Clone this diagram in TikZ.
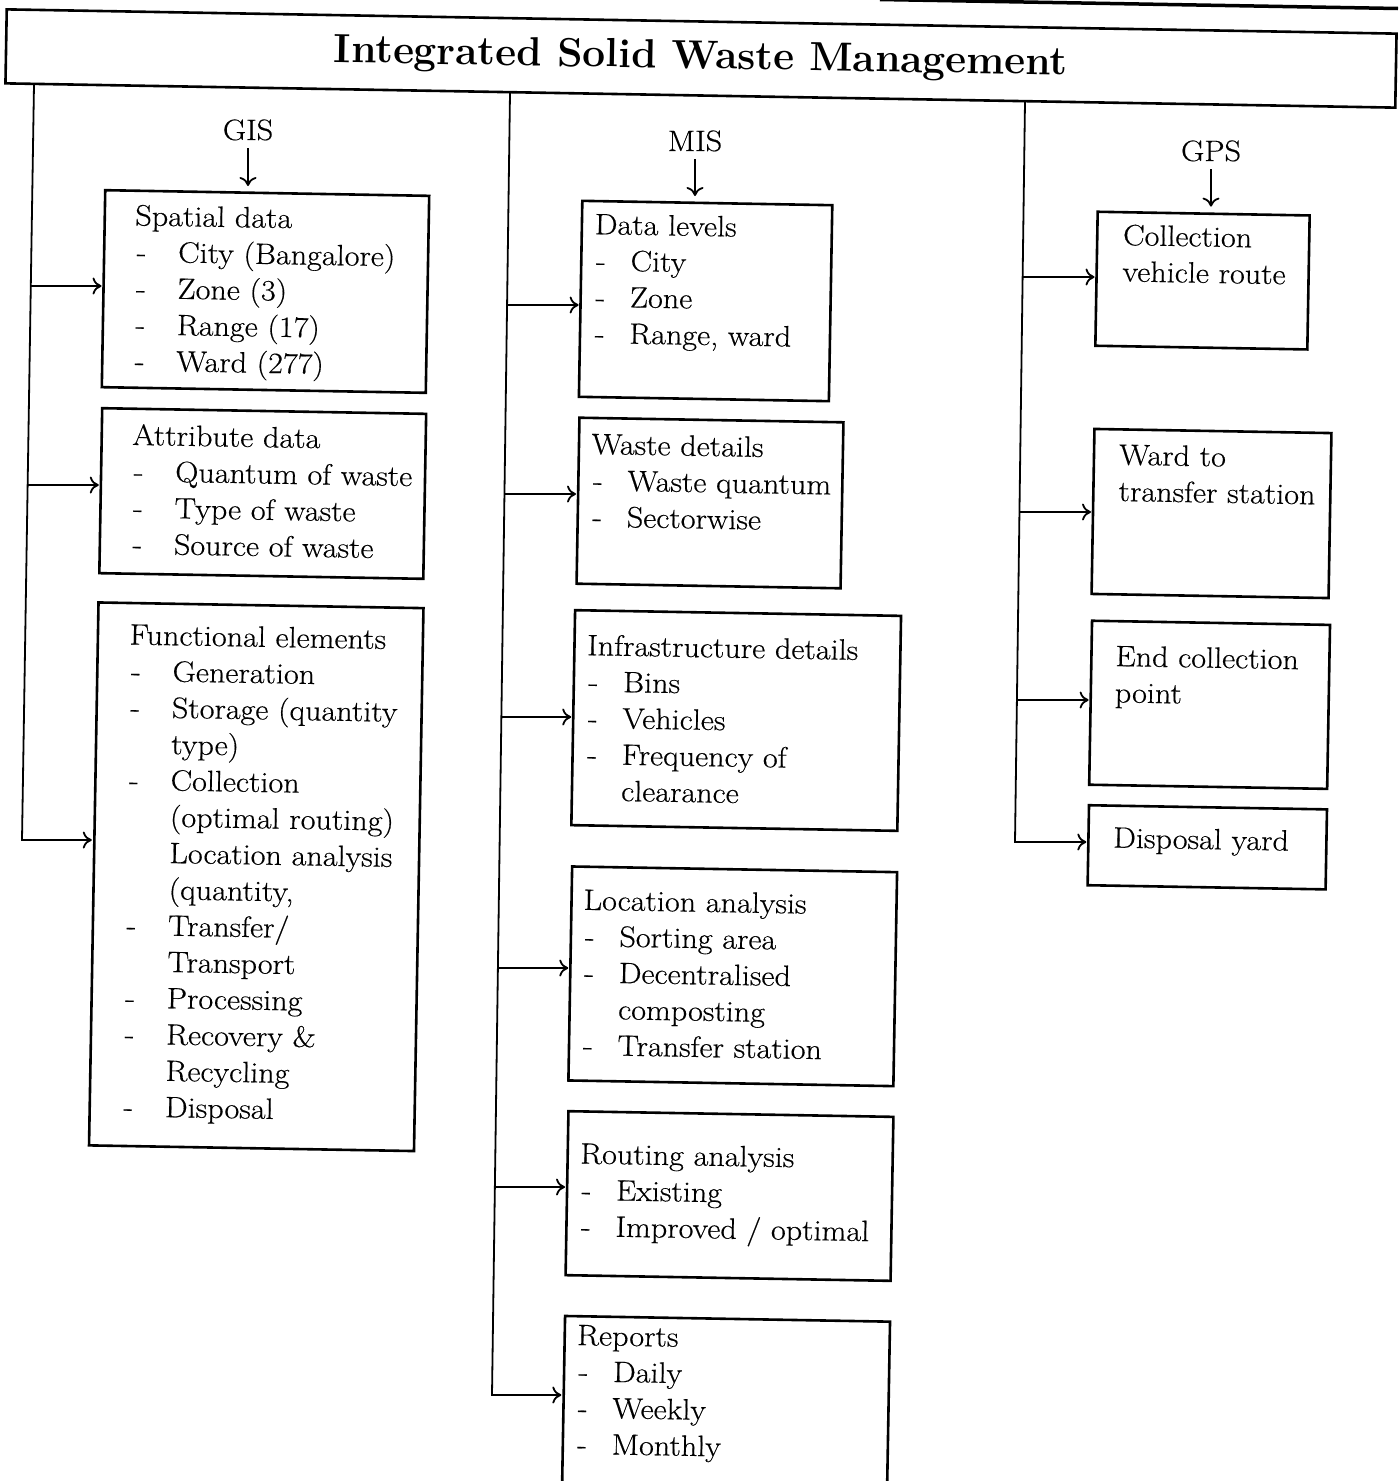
\documentclass[tikz,border=0pt]{standalone}
\usepackage{fontspec}
\setmainfont{Latin Modern Roman}[FakeStretch=1.09,FakeBold=0.4]
\newfontfamily\titlefont{Latin Modern Roman}
\usetikzlibrary{arrows.meta,calc}
\newcommand\txtfont{\fontsize{29.5}{36.3}\selectfont}
\newcommand\boxtxt[5]{\parbox[c][#2pt][t]{#1pt}{\leftskip=#3pt\relax\rule{0pt}{#4pt}#5}}
\newcommand\gitem[1]{\hspace*{2pt}\makebox[41.5pt][l]{-}#1}
\newcommand\gcont[1]{\hspace*{43.5pt}#1}
\newcommand\mitem[1]{\hspace*{2pt}\makebox[34.5pt][l]{-}#1}
\newcommand\mcont[1]{\hspace*{36.5pt}#1}
\begin{document}
\begin{tikzpicture}[x=1pt,y=-1pt,
  box/.style={draw,line width=2.6pt,rotate=-1,inner sep=0pt,outer sep=0pt,font=\txtfont},
  lbl/.style={inner sep=0pt,anchor=base,font=\txtfont},
  arr/.style={line width=1.8pt,-{To[length=9pt,width=17pt]},shorten >=2pt},
  down/.style={arr,shorten <=7.5pt,shorten >=7pt}]
\path[use as bounding box,fill=white] (0,0) rectangle (1398,1481);
\clip (0,0) rectangle (1398,1481);

% stray scan edge at the top
\draw[line width=3.5pt] (880,-0.5) -- (1398,8.5);

% title
\node[draw,line width=2.6pt,rotate=-1,inner sep=0pt,outer sep=0pt,
      minimum width=1390pt,minimum height=74pt,
      font=\titlefont\fontsize{40.7}{46}\selectfont\bfseries] (title) at (701,58.5)
      {Integrated Solid Waste Management};

% column labels
\node[lbl] (gis) at (248,140) {GIS};
\node[lbl] (mis) at (695,151) {MIS};
\node[lbl] (gps) at (1211,161) {GPS};

% GIS boxes
\node[box] (spatial) at (265.5,291.5) {\boxtxt{324}{197}{30.6}{34.7}{Spatial data\\
  \gitem{City (Bangalore)}\\ \gitem{Zone (3)}\\ \gitem{Range (17)}\\ \gitem{Ward (277)}}};
\node[box] (attr) at (262.75,493.5) {\boxtxt{324}{165}{30.7}{36.2}{Attribute data\\
  \gitem{Quantum of waste}\\ \gitem{Type of waste}\\ \gitem{Source of waste}}};
\node[box] (func) at (256.25,876.75) {\boxtxt{325}{543}{31.8}{41.5}{Functional elements\\
  \gitem{Generation}\\ \gitem{Storage (quantity}\\ \gcont{type)}\\ \gitem{Collection}\\
  \gcont{(optimal routing)}\\ \gcont{Location analysis}\\ \gcont{(quantity,}\\
  \gitem{Transfer/}\\ \gcont{Transport}\\ \gitem{Processing}\\ \gitem{Recovery \&}\\
  \gcont{Recycling}\\ \gitem{Disposal}}};

% MIS boxes
\node[box] (dlev) at (705.6,301) {\boxtxt{250}{196}{12.9}{33.1}{Data levels\\
  \mitem{City}\\ \mitem{Zone}\\ \mitem{Range, ward}}};
\node[box] (wdet) at (710,503) {\boxtxt{264}{166}{12.7}{36.1}{Waste details\\
  \mitem{Waste quantum}\\ \mitem{Sectorwise}}};
\node[box] (infra) at (736.2,720.5) {\boxtxt{326}{215}{12.8}{44.8}{Infrastructure details\\
  \mitem{Bins}\\ \mitem{Vehicles}\\ \mitem{Frequency of}\\ \mcont{clearance}}};
\node[box] (loc) at (732.75,976.3) {\boxtxt{325}{214}{12.1}{43.1}{Location analysis\\
  \mitem{Sorting area}\\ \mitem{Decentralised}\\ \mcont{composting}\\ \mitem{Transfer station}}};
\node[box] (rout) at (729.5,1196) {\boxtxt{325}{164}{12.6}{52.1}{Routing analysis\\
  \mitem{Existing}\\ \mitem{Improved / optimal}}};
\node[box] (rep) at (725.8,1418.8) {\boxtxt{325}{200}{12.5}{28.8}{Reports\\
  \mitem{Daily}\\ \mitem{Weekly}\\ \mitem{Monthly}}};

% GPS boxes
\node[box] (coll) at (1202.5,280.6) {\boxtxt{212}{134}{25.9}{32.9}{Collection\\ vehicle route}};
\node[box] (ward) at (1211.5,513.5) {\boxtxt{237}{165}{25.3}{35.3}{Ward to\\ transfer station}};
\node[box] (endc) at (1209.6,704.8) {\boxtxt{238}{164}{24.1}{44.9}{End collection\\ point}};
\node[box] (disp) at (1207.3,847.3) {\boxtxt{238}{80}{24.8}{41.9}{Disposal yard}};

% label arrows
\draw[down] (gis.south) -- (gis.south |- spatial.north);
\draw[down] (mis.south) -- (mis.south |- dlev.north);
\draw[down] (gps.south) -- (gps.south |- coll.north);

% trunk points
\coordinate (gtop) at (34,84.5);
\coordinate (g1) at (30.8,286);
\coordinate (g2) at (27.6,485);
\coordinate (g3) at (22,840);
\coordinate (mtop) at (510,93);
\coordinate (m1) at (507,305);
\coordinate (m2) at (504.4,494);
\coordinate (m3) at (501.4,717);
\coordinate (m4) at (497.9,968);
\coordinate (m5) at (494.9,1187);
\coordinate (m6) at (492,1395);
\coordinate (ptop) at (1025,101.5);
\coordinate (p1) at (1022.7,277);
\coordinate (p2) at (1019.5,512);
\coordinate (p3) at (1016.9,700);
\coordinate (p4) at (1015,842);

% GIS connectors
\draw[arr] (gtop) -- (g3) -- (g3 -| func.west);
\draw[arr] (g1) -- (g1 -| spatial.west);
\draw[arr] (g2) -- (g2 -| attr.west);

% MIS connectors
\draw[arr] (mtop) -- (m6) -- (m6 -| rep.west);
\draw[arr] (m1) -- (m1 -| dlev.west);
\draw[arr] (m2) -- (m2 -| wdet.west);
\draw[arr] (m3) -- (m3 -| infra.west);
\draw[arr] (m4) -- (m4 -| loc.west);
\draw[arr] (m5) -- (m5 -| rout.west);

% GPS connectors
\draw[arr] (ptop) -- (p4) -- (p4 -| disp.west);
\draw[arr] (p1) -- (p1 -| coll.west);
\draw[arr] (p2) -- (p2 -| ward.west);
\draw[arr] (p3) -- (p3 -| endc.west);
\end{tikzpicture}
\end{document}
